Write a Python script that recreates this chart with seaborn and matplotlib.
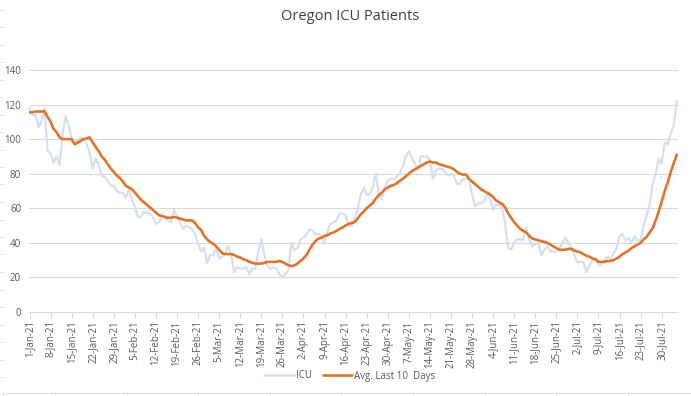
import numpy as np
import pandas as pd
import matplotlib
matplotlib.use("Agg")
import matplotlib.pyplot as plt
import matplotlib.dates as mdates
from matplotlib.lines import Line2D
import seaborn as sns

start_date = "2021-01-01"
title = "Oregon ICU Patients"
series_names = ["ICU", "Avg. Last 10  Days"]

icu = [
    118, 114, 114, 107, 110, 118, 93, 92, 86, 90, 85,
    103, 113, 108, 100, 98, 99, 101, 100, 97, 92,
    83, 89, 85, 79, 78, 76, 73, 73, 70, 69,
    69, 66, 71, 65, 61, 55, 55, 58, 57, 57,
    55, 51, 52, 55, 54, 53, 52, 59, 55, 52,
    48, 50, 49, 48, 45, 40, 35, 37, 28, 33,
    33, 37, 31, 32, 34, 38, 33, 23, 26, 25,
    25, 26, 22, 25, 25, 35, 42, 33, 27, 25,
    26, 25, 22, 20, 22, 24, 40, 36, 37, 42,
    43, 45, 48, 47, 45, 45, 44, 40, 47, 51,
    52, 53, 57, 57, 56, 50, 50, 54, 59, 68,
    72, 68, 68, 72, 80, 69, 65, 72, 76, 77,
    77, 78, 80, 84, 90, 93, 89, 86, 82, 90,
    90, 90, 88, 77, 82, 83, 83, 81, 79, 80,
    79, 74, 74, 77, 77, 77, 68, 61, 63, 63,
    64, 68, 66, 59, 62, 62, 60, 51, 37, 36,
    40, 42, 42, 42, 49, 42, 38, 39, 40, 33,
    36, 38, 35, 35, 35, 37, 40, 43, 40, 37,
    33, 29, 29, 29, 23, 27, 30, 31, 27, 28,
    30, 32, 30, 34, 37, 44, 45, 41, 43, 40,
    44, 41, 42, 50, 56, 62, 74, 80, 89, 86,
    98, 97, 103, 108, 122,
]

avg10 = [
    115.5, 115.5, 116, 116, 116, 116, 113, 110, 106, 104, 101,
    100, 100, 100, 100, 97, 98, 99, 100, 100.5, 101,
    98, 95.5, 93, 90, 88, 85.5, 83, 81, 79, 77.5,
    75.5, 73, 72, 71, 69, 67, 65, 63.5, 62, 60.5,
    59, 57.5, 56, 55.5, 55, 54.5, 54.5, 55, 54.5, 54,
    53.5, 53, 53, 53, 51.5, 49, 47.5, 44, 42, 40.5,
    39.5, 38, 36, 34, 33.5, 33.5, 33.5, 33, 32, 31.5,
    30.5, 30, 29, 28.5, 28, 28, 28, 28.5, 29, 29,
    29, 29, 29.5, 29, 28, 27, 26.5, 27, 28, 29.5,
    31, 33, 36, 39, 41, 42.5, 43, 44, 44.5, 45.5,
    46, 47, 48, 49, 50, 51, 51.5, 52, 54, 56.5,
    58, 60, 61.5, 63, 65.5, 67.5, 69, 71, 72, 73,
    73.5, 74.5, 76, 77, 78.5, 80, 81.5, 82.5, 83.5, 84.5,
    85.5, 86.5, 87, 86.5, 86.5, 85.5, 85, 84.5, 84, 83.5,
    82.5, 81, 80, 79.5, 79.5, 77, 75.5, 74, 72.5, 71,
    70, 69, 68, 66.5, 64.5, 63.5, 62.5, 60.5, 57, 54.5,
    52, 50, 48, 47, 46, 44, 42.5, 42, 41.5, 41,
    40.5, 40, 39, 38, 37, 36, 36, 36, 36.5, 36.5,
    35.5, 35, 34.5, 33.5, 32.5, 32, 31, 30.5, 29, 29,
    29, 29.5, 29.5, 30, 31, 32, 33.5, 34.5, 35.5, 37,
    38, 39, 40, 42, 43.5, 46, 48.5, 53, 58, 64,
    70, 75, 81, 86, 91,
]

yticks = [0, 20, 40, 60, 80, 100, 120, 140]

dates = pd.date_range(start_date, periods=len(icu), freq="D")
df = pd.DataFrame({"date": np.concatenate([dates, dates]),
                   "value": icu + avg10,
                   "series": [series_names[0]] * len(icu) + [series_names[1]] * len(avg10)})

sns.set_theme(style="white")
plt.rcParams["font.family"] = ["Open Sans", "DejaVu Sans"]

W, H = 691, 396
fig = plt.figure(figsize=(W / 100, H / 100), dpi=100)
ax = fig.add_axes([29.5 / W, 1 - 312 / H, (677.5 - 29.5) / W, (312 - 70) / H])

c_icu = "#D5DFF0"
c_avg = "#E2742A"
txt = "#595959"
grid = "#D9D9D9"

sns.lineplot(data=df, x="date", y="value", hue="series", hue_order=series_names,
             palette=[c_icu, c_avg], ax=ax, legend=False, linewidth=1.7)
ax.lines[0].set_linewidth(1.6)
ax.lines[1].set_linewidth(1.9)

ax.set_ylim(0, 140)
ax.set_xlim(dates[0], dates[-1] + pd.Timedelta(hours=6))
ax.set_yticks(yticks)
ax.yaxis.grid(True, color=grid, linewidth=0.8)
ax.set_axisbelow(True)
for s in ["top", "right", "left"]:
    ax.spines[s].set_visible(False)
ax.spines["bottom"].set_color(grid)
ax.spines["bottom"].set_linewidth(0.8)

ax.xaxis.set_major_locator(mdates.DayLocator(interval=7) if False else mdates.DayLocator(bymonthday=None, interval=1))
ax.set_xticks(dates[::7])
ax.xaxis.set_major_formatter(mdates.DateFormatter("%-d-%b-%y"))
ax.tick_params(axis="x", direction="out", length=4, width=0.8, color=grid,
               labelsize=7, labelcolor=txt, pad=2, labelrotation=90, bottom=True)
ax.tick_params(axis="y", length=0, labelsize=7, labelcolor=txt, pad=6)
ax.set_xlabel("")
ax.set_ylabel("")

fig.text(350 / W, 1 - 17 / H, title, ha="center", va="center", fontsize=10.5, color="#404040")

handles = [Line2D([], [], color=c_icu, linewidth=1.8), Line2D([], [], color=c_avg, linewidth=1.9)]
fig.legend(handles, series_names, loc="center", bbox_to_anchor=(350 / W, 1 - 376 / H), ncol=2,
           frameon=False, fontsize=7, labelcolor=txt, handlelength=3.0, handletextpad=0.2,
           columnspacing=1.2)

# faint spreadsheet cell borders around the chart object
fig.add_artist(Line2D([3 / W, 3 / W], [0, 1 - 393 / H], color="#E0E0E0", linewidth=0.8))
fig.add_artist(Line2D([3 / W, 1], [1 - 393 / H, 1 - 393 / H], color="#E0E0E0", linewidth=0.8))
for k in range(23):
    yy = 9.5 + 17.5 * k
    if yy < 392:
        fig.add_artist(Line2D([0, 3 / W], [1 - yy / H, 1 - yy / H], color="#E0E0E0", linewidth=0.8))
for k in range(10):
    xx = 55 + 71.6 * k
    fig.add_artist(Line2D([xx / W, xx / W], [0, 1 - 393 / H], color="#E0E0E0", linewidth=0.8))

fig.savefig("out.png", dpi=100)
